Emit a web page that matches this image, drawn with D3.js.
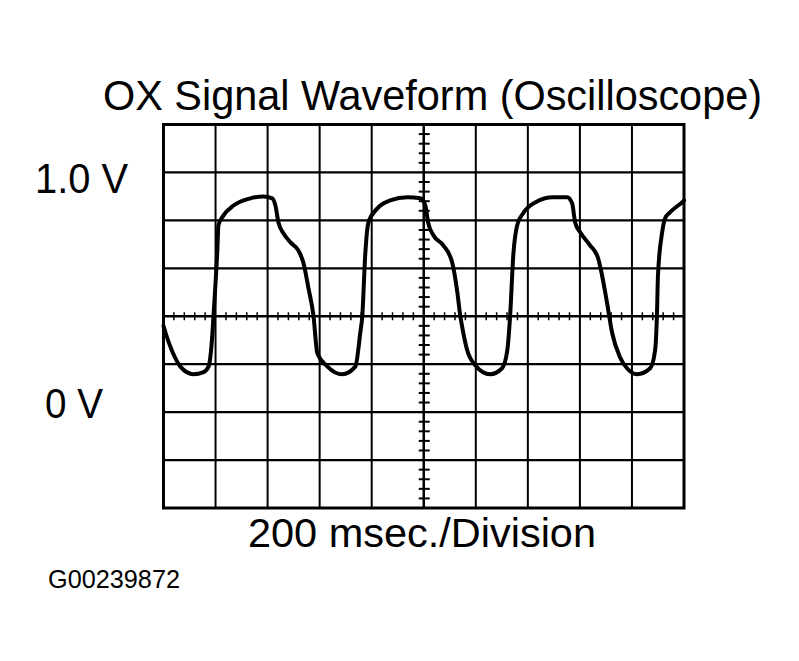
<!DOCTYPE html>
<html>
<head>
<meta charset="utf-8">
<script src="https://cdn.jsdelivr.net/npm/d3@7/dist/d3.min.js"></script>
<style>
  html, body { margin: 0; padding: 0; background: #fff; }
  svg { display: block; }
  text { font-family: "Liberation Sans", Arial, sans-serif; fill: #000; }
</style>
</head>
<body>
<div id="chart"></div>
<script>
// ---- data (time in ms, signal in volts) ----
const timeMs = [0, 8, 35, 65, 115, 154, 173, 188, 192, 207, 211, 230, 269, 334, 384, 418, 430, 442, 461, 488, 518, 537, 557, 576, 591, 630, 687, 737, 756, 764, 775, 787, 822, 871, 937, 987, 1006, 1017, 1037, 1075, 1109, 1129, 1140, 1148, 1167, 1198, 1255, 1301, 1321, 1332, 1344, 1359, 1382, 1428, 1497, 1551, 1570, 1582, 1601, 1639, 1670, 1685, 1704, 1724, 1754, 1781, 1820, 1870, 1889, 1896, 1900, 1916, 1927, 1946, 1992, 2000];
const volts  = [0.36, 0.33, 0.25, 0.19, 0.158, 0.167, 0.19, 0.33, 0.40, 0.68, 0.78, 0.82, 0.862, 0.892, 0.90, 0.892, 0.862, 0.79, 0.746, 0.708, 0.675, 0.625, 0.517, 0.404, 0.246, 0.19, 0.158, 0.19, 0.33, 0.404, 0.654, 0.79, 0.85, 0.883, 0.896, 0.892, 0.862, 0.79, 0.738, 0.696, 0.625, 0.50, 0.404, 0.354, 0.258, 0.196, 0.158, 0.183, 0.258, 0.404, 0.654, 0.78, 0.83, 0.875, 0.896, 0.896, 0.871, 0.79, 0.75, 0.696, 0.642, 0.571, 0.458, 0.33, 0.229, 0.183, 0.158, 0.183, 0.258, 0.404, 0.571, 0.75, 0.808, 0.833, 0.875, 0.883];

const timeDivisions = [0, 200, 400, 600, 800, 1000, 1200, 1400, 1600, 1800, 2000];
const voltDivisions = [-0.4, -0.2, 0, 0.2, 0.4, 0.6, 0.8, 1.0, 1.2];
const centerTime = 1000;
const centerVolt = 0.4;
const minorTimeStep = 40;
const minorVoltStep = 0.04;

const titleText = "OX Signal Waveform (Oscilloscope)";
const yLabels = [{ v: 1.0, text: "1.0 V" }, { v: 0, text: "0 V" }];
const xLabelText = "200 msec./Division";
const figureId = "G00239872";

// ---- layout ----
const W = 799, H = 661;
const svg = d3.select("#chart").append("svg").attr("width", W).attr("height", H);

const x = d3.scaleLinear().domain([0, 2000]).range([163.5, 684]);
const y = d3.scaleLinear().domain([-0.4, 1.2]).range([508, 124.5]);

const g = svg.append("g");

// grid verticals
g.selectAll("line.vgrid").data(timeDivisions.slice(1, -1)).enter().append("line")
  .attr("x1", d => x(d)).attr("x2", d => x(d))
  .attr("y1", y(1.2)).attr("y2", y(-0.4))
  .attr("stroke", "#000").attr("stroke-width", d => d === centerTime ? 2.5 : 2);

// grid horizontals
g.selectAll("line.hgrid").data(voltDivisions.slice(1, -1)).enter().append("line")
  .attr("x1", x(0)).attr("x2", x(2000))
  .attr("y1", d => y(d)).attr("y2", d => y(d))
  .attr("stroke", "#000").attr("stroke-width", d => d === centerVolt ? 2.5 : 2.2);

// minor ticks on center horizontal axis
const minorT = d3.range(0, 2000 + 1, minorTimeStep).filter(t => t % 200 !== 0);
g.selectAll("line.mt").data(minorT).enter().append("line")
  .attr("x1", d => x(d)).attr("x2", d => x(d))
  .attr("y1", y(centerVolt) - 4).attr("y2", y(centerVolt) + 4)
  .attr("stroke", "#000").attr("stroke-width", 1.5);

// minor ticks on center vertical axis
const minorV = d3.range(0, 40).map(i => -0.4 + i * minorVoltStep).filter((v, i) => i % 5 !== 0);
g.selectAll("line.mv").data(minorV).enter().append("line")
  .attr("x1", x(centerTime) - 5).attr("x2", x(centerTime) + 6)
  .attr("y1", d => y(d)).attr("y2", d => y(d))
  .attr("stroke", "#000").attr("stroke-width", 2);

// outer box
g.append("rect")
  .attr("x", x(0)).attr("y", y(1.2))
  .attr("width", x(2000) - x(0)).attr("height", y(-0.4) - y(1.2))
  .attr("fill", "none").attr("stroke", "#000").attr("stroke-width", 3);

// waveform
const pts = timeMs.map((t, i) => [t, volts[i]]);
const line = d3.line().x(d => x(d[0])).y(d => y(d[1])).curve(d3.curveMonotoneX);
g.append("path").datum(pts)
  .attr("d", line)
  .attr("fill", "none").attr("stroke", "#000").attr("stroke-width", 4)
  .attr("stroke-linejoin", "round").attr("stroke-linecap", "round");

// texts
svg.append("text").attr("x", 103).attr("y", 110)
  .attr("font-size", 42).attr("textLength", 659).attr("lengthAdjust", "spacingAndGlyphs")
  .text(titleText);

svg.selectAll("text.ylab").data(yLabels).enter().append("text")
  .attr("x", d => d.v === 0 ? 45 : 35)
  .attr("y", d => d.v === 0 ? 418 : 193)
  .attr("font-size", 42)
  .attr("textLength", d => d.v === 0 ? 58 : 93).attr("lengthAdjust", "spacingAndGlyphs")
  .text(d => d.text);

svg.append("text").attr("x", 248).attr("y", 547)
  .attr("font-size", 41).attr("textLength", 348).attr("lengthAdjust", "spacingAndGlyphs")
  .text(xLabelText);

svg.append("text").attr("x", 48).attr("y", 588)
  .attr("font-size", 25).attr("textLength", 132).attr("lengthAdjust", "spacingAndGlyphs")
  .text(figureId);
</script>
</body>
</html>
